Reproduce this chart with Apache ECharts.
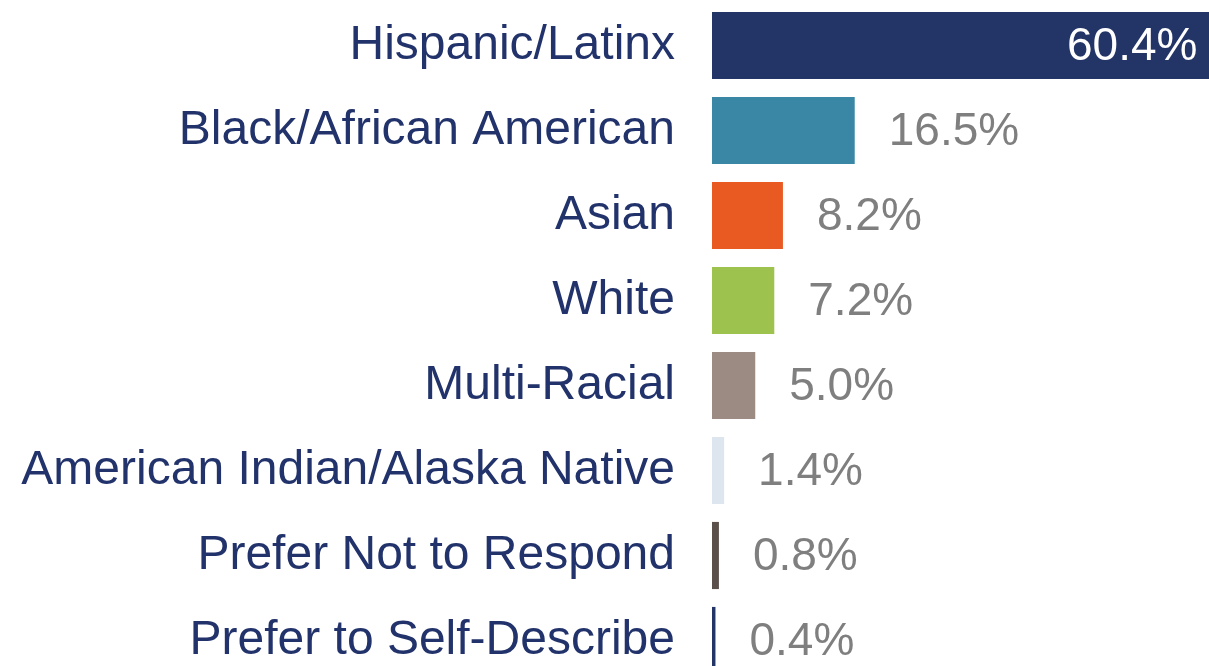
<!DOCTYPE html>
<html>
<head>
<meta charset="utf-8">
<script src="https://cdn.jsdelivr.net/npm/echarts@6/dist/echarts.min.js"></script>
<style>
  html, body { margin: 0; padding: 0; background: #ffffff; overflow: hidden; }
  /* 原图底部和右侧被裁掉，画布比窗口略大 */
  #main { width: 1240px; height: 690px; }
</style>
</head>
<body>
<div id="main"></div>
<script>
// 类别与数值
const categories = [
  'Hispanic/Latinx',
  'Black/African American',
  'Asian',
  'White',
  'Multi-Racial',
  'American Indian/Alaska Native',
  'Prefer Not to Respond',
  'Prefer to Self-Describe'
];
const values = [60.4, 16.5, 8.2, 7.2, 5.0, 1.4, 0.8, 0.4];
const barColors = ['#233466', '#3a87a5', '#e85a22', '#9dc34e', '#9c8b82', '#dde5ee', '#5b4f4a', '#233466'];

const myChart = echarts.init(document.getElementById('main'));

const seriesData = values.map((v, i) => {
  const item = { value: v, itemStyle: { color: barColors[i] } };
  if (i === 0) {
    // 第一条柱子超出画面，标签放在柱内
    item.label = {
      position: 'insideRight',
      distance: 0,
      offset: [-37, 2],
      color: '#ffffff'
    };
  }
  return item;
});

const options = {
  animation: false,
  grid: {
    left: 712,
    top: 3,
    height: 680,
    width: 519,
    containLabel: false
  },
  xAxis: {
    type: 'value',
    min: 0,
    max: 60,
    show: false
  },
  yAxis: {
    type: 'category',
    data: categories,
    inverse: true,
    axisLine: { show: false },
    axisTick: { show: false },
    axisLabel: {
      margin: 37,
      color: '#22336b',
      fontSize: 48,
      fontFamily: 'Liberation Sans, Arial, sans-serif'
    }
  },
  series: [
    {
      type: 'bar',
      data: seriesData,
      barCategoryGap: '21%',
      clip: false,
      label: {
        show: true,
        position: 'right',
        distance: 34,
        offset: [0, 2],
        color: '#7f7f7f',
        fontSize: 46,
        fontFamily: 'Liberation Sans, Arial, sans-serif',
        formatter: (p) => p.value.toFixed(1) + '%'
      }
    }
  ]
};
myChart.setOption(options);
window.onresize = function () {
  myChart.resize();
};
</script>
</body>
</html>
